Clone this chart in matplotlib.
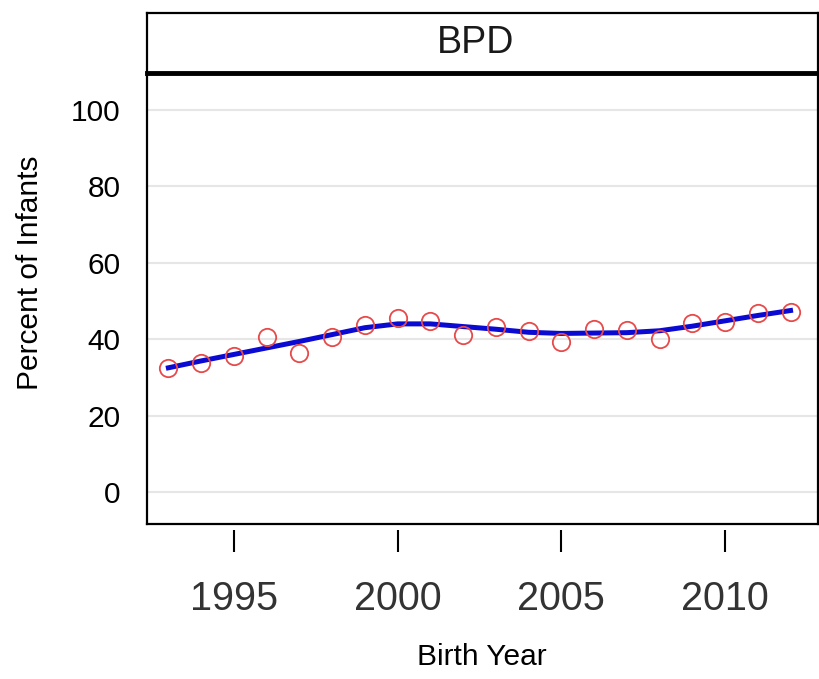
import matplotlib
matplotlib.use("Agg")
import matplotlib.pyplot as plt

# data
years = list(range(1993, 2013))
observed = [32.5, 33.8, 35.6, 40.5, 36.5, 40.5, 43.7, 45.5, 44.8, 41.1,
            43.3, 42.2, 39.3, 42.6, 42.4, 40.0, 44.2, 44.6, 46.8, 47.2]
smoothed = [32.5, 34.3, 36.0, 37.7, 39.4, 41.2, 43.0, 44.0, 44.0, 43.3,
            42.6, 41.8, 41.5, 41.6, 41.7, 42.2, 43.4, 44.8, 46.2, 47.5]
y_ticks = [0, 20, 40, 60, 80, 100]
x_ticks = [1995, 2000, 2005, 2010]
panel = "BPD"

plt.rcParams["font.family"] = ["Liberation Sans", "DejaVu Sans"]

fig = plt.figure(figsize=(8.2, 6.79), dpi=100)
ax = fig.add_axes([0.179, 0.2283, 0.8186, 0.6642])
strip = fig.add_axes([0.179, 0.8925, 0.8186, 0.0884])

ax.plot(years, smoothed, color="#0a0ad2", lw=3.6, zorder=3)
ax.plot(years, observed, ls="none", marker="o", ms=12.5, mfc="none",
        mec="#e84a4a", mew=1.3, zorder=4)

ax.set_xlim(1992.34, 2012.84)
ax.set_ylim(-8.4, 109.7)
ax.set_yticks(y_ticks)
ax.grid(axis="y", color="#e6e6e6", lw=1.5)
ax.set_axisbelow(True)
ax.tick_params(axis="y", length=0, pad=19, labelsize=21.5)
ax.set_xticks([])
for s in ("left", "bottom", "right"):
    ax.spines[s].set_linewidth(1.6)
ax.spines["top"].set_visible(False)

# x ticks sit slightly below the panel border
sec = ax.secondary_xaxis(-0.013)
sec.set_xticks(x_ticks)
sec.spines["bottom"].set_visible(False)
sec.tick_params(length=16, width=1.5, pad=20, labelsize=28.5,
                labelcolor="#333333")

ax.set_ylabel("Percent of Infants", fontsize=21.5)
ax.yaxis.set_label_coords(-0.153, 0.556)
fig.text(0.588, 0.032, "Birth Year", fontsize=21.5, ha="center", va="center")

strip.set_xticks([])
strip.set_yticks([])
for s in ("left", "top", "right"):
    strip.spines[s].set_linewidth(1.6)
strip.spines["bottom"].set_linewidth(3.5)
strip.text(0.49, 0.5, panel, fontsize=27, ha="center", va="center",
           color="#1a1a1a", transform=strip.transAxes)

fig.savefig("out.png", dpi=100)
